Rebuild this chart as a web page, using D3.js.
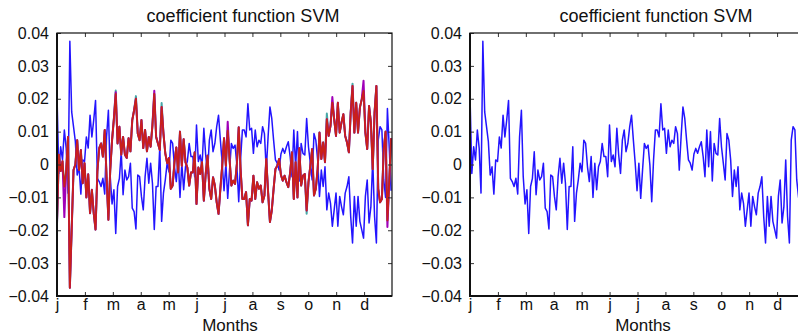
<!DOCTYPE html>
<html>
<head>
<meta charset="utf-8">
<script src="https://cdn.jsdelivr.net/npm/d3@7"></script>
<style>
  body { margin: 0; background: #fff; }
  svg { display: block; font-family: "Liberation Sans", Arial, sans-serif; }
</style>
</head>
<body>
<div id="chart"></div>
<script>
// values are in thousandths, one sample every 2 days
const valueUnit = 0.001;
const sampleDays = d3.range(0, 365, 2);
const monthLabels = ["j", "f", "m", "a", "m", "j", "j", "a", "s", "o", "n", "d"];
const yTicks = [-0.04, -0.03, -0.02, -0.01, 0, 0.01, 0.02, 0.03, 0.04];

const svmBlue = [21,-2.7,5.4,1.4,10.5,5,-8.7,37.5,16,11.5,
  7,-3.2,-0.7,-9,1.4,0.9,8.4,5,15,8.4,
  13.5,19.5,-4.2,-5.2,-6.7,-4.2,-9,8.4,16.5,-3.7,
  -12,-7.7,-21,-6.7,-4.2,3.9,-9.2,-1.7,-4.7,-3.7,
  0.4,-13.3,-14.3,-19.6,-3.2,-3.7,-9.7,-13.8,-3.7,1.9,
  -5.7,0.4,-5.7,-19.8,-6.7,-6.7,5.4,-17.3,-8.7,-4.7,
  0.4,-2.2,7.4,6.4,-0.7,-5.2,2.4,-10,0.4,-7.7,
  -0.7,0.9,6.4,2.4,2.4,-3.7,12,0.9,2.9,-0.7,
  11,2.9,-2.7,7.4,10.5,3.9,6.4,11.5,15,7.4,
  0.4,-8,0.4,-10.3,-1.7,6.4,4.9,5.9,-0.2,-11.3,
  1.4,10.5,10.5,8.4,18.5,10.5,11,3.4,10.5,5.4,
  7.4,6.4,11.5,9.4,-1.7,8.4,17.5,14,7.4,1.4,
  0.4,-1.7,3.2,4.9,3.4,5.4,6.9,2.5,-3.7,10.5,
  -0.7,10,-5,6.4,3.4,2.9,14,5.4,0.4,-4.7,
  9.4,7.4,1.4,-9.7,-1.7,-6.7,-0.7,-13.8,-8.7,-11.8,
  -18.8,-13.8,-8.7,-18.8,-9.7,-12.8,-15.3,-8.7,-6.7,-3.7,
  -15.8,-23.9,-9.7,-18.8,-9.7,-17.3,-19.8,-22.4,-9.7,-4.7,
  -17.8,-12.8,1.4,-15.8,-23.9,7.4,11.5,10.5,-4.7,-10,
  17,5,-8];

const svmRed = [-18,3,-2,1,-6.7,-2,8.4,-37.5,-19.8,-1.7,
  0,7.4,-1.7,4.4,-5.7,0.4,-10,-3,-14.8,-7.7,
  -14.8,-19.8,-2,5,6.4,2.4,10.5,-3.7,-16.8,-1.7,
  7.4,14,21.5,6.4,11.5,3,8.4,3,2,8,
  4,13.5,16.5,20,9.4,7.4,13.5,5,10.5,4,
  8.4,5.4,12,21.5,8.4,6.4,4.4,17.5,9.4,3.4,
  0.4,2,-7.4,-6.4,0.7,5.2,-2.4,10,-0.4,7.7,
  0.7,-0.9,-6.4,-2.4,-2.4,3.7,-12,-0.9,-2.9,0.7,
  -11,-2.9,2.7,-7.4,-10.5,-3.9,-6.4,-11.5,-15,-7.4,
  -0.4,8,-0.4,10.3,1.7,-6.4,-4.9,-5.9,0.2,11.3,
  -1.4,-10.5,-10.5,-8.4,-18.5,-10.5,-11,-3.4,-10.5,-5.4,
  -7.4,-6.4,-11.5,-9.4,1.7,-8.4,-17.5,-14,-7.4,-1.4,
  -0.4,1.7,-3.2,-4.9,-3.4,-5.4,-6.9,-2.5,3.7,-10.5,
  0.7,-10,5,-6.4,-3.4,-2.9,-14,-5.4,-0.4,4.7,
  -9.4,-7.4,-1.4,9.7,1.7,6.7,0.7,13.8,8.7,11.8,
  18.8,13.8,8.7,18.8,9.7,12.8,15.3,8.7,6.7,3.7,
  15.8,23.9,9.7,18.8,9.7,17.3,19.8,22.4,9.7,4.7,
  17.8,12.8,-1.4,15.8,23.9,-7.4,-11.5,-10.5,4.7,10,
  -17,-5,8];

const svmMagenta = [-18,3,-2,1,-16,-2,8.4,-37.5,-19.8,-1.7,
  0,7.4,-1.7,4.4,-5.7,0.4,-10,-3,-14.8,-7.7,
  -14.8,-19.8,-2,5,6.4,2.4,10.5,-3.7,-16.8,-1.7,
  7.4,14,22,6.4,11.5,3,8.4,3,2,8,
  4,13.5,16.5,20,9.4,7.4,13.5,5,10.5,4,
  8.4,5.4,12,22.4,8.4,6.4,4.4,17.5,9.4,3.4,
  0.4,2,-7.4,-6.4,0.7,5.2,-2.4,10,-0.4,7.7,
  0.7,-0.9,-6.4,-2.4,-2.4,3.7,-12,-0.9,-2.9,0.7,
  -11,-2.9,2.7,-7.4,-10.5,-3.9,-6.4,-11.5,-15,-7.4,
  -0.4,8,-0.4,13,1.7,-6.4,-4.9,-5.9,0.2,11.3,
  -1.4,-10.5,-10.5,-8.4,-18.5,-10.5,-11,-3.4,-10.5,-5.4,
  -7.4,-6.4,-11.5,-9.4,1.7,-8.4,-17.5,-14,-7.4,-1.4,
  -0.4,1.7,-3.2,-4.9,-3.4,-5.4,-6.9,-2.5,3.7,-10.5,
  0.7,-10,5,-6.4,-3.4,-2.9,-14,-5.4,-0.4,4.7,
  -9.4,-7.4,-1.4,9.7,1.7,6.7,0.7,13.8,8.7,11.8,
  20.5,13.8,8.7,18.8,9.7,12.8,15.3,8.7,6.7,3.7,
  15.8,23.9,9.7,18.8,9.7,17.3,19.8,25.5,9.7,4.7,
  17.8,12.8,-1.4,15.8,23.9,-7.4,-11.5,-10.5,4.7,10,
  -19,-5,8];

const svmCyan = [-18,3,-2,1,-6.7,-2,8.4,-37.5,-19.8,-1.7,
  0,7.4,-1.7,4.4,-5.7,0.4,-10,-3,-14.8,-7.7,
  -14.8,-19.8,-2,5,6.4,2.4,10.5,-3.7,-16.8,-1.7,
  7.4,14,22.5,6.4,11.5,3,8.4,3,2,8,
  4,13.5,16.5,20.8,9.4,7.4,13.5,5,10.5,4,
  8.4,5.4,12,21.5,8.4,6.4,4.4,18.7,9.4,3.4,
  0.4,2,-7.4,-6.4,0.7,5.2,-2.4,10,-0.4,7.7,
  0.7,-0.9,-6.4,-2.4,-2.4,3.7,-12,-0.9,-2.9,0.7,
  -11,-2.9,2.7,-7.4,-10.5,-3.9,-6.4,-11.5,-15,-7.4,
  -0.4,8,-0.4,10.3,1.7,-6.4,-4.9,-5.9,0.2,11.3,
  -1.4,-10.5,-10.5,-8.4,-18.5,-10.5,-11,-3.4,-10.5,-5.4,
  -7.4,-6.4,-11.5,-9.4,1.7,-8.4,-17.5,-14,-7.4,-1.4,
  -0.4,1.7,-3.2,-4.9,-3.4,-5.4,-6.9,-2.5,3.7,-10.5,
  0.7,-10,5,-6.4,-3.4,-2.9,-15,-5.4,-0.4,4.7,
  -9.4,-7.4,-1.4,9.7,1.7,6.7,0.7,15.5,8.7,11.8,
  18.8,13.8,8.7,18.8,9.7,12.8,15.3,8.7,6.7,3.7,
  15.8,24.6,9.7,18.8,9.7,17.3,19.8,22.4,9.7,4.7,
  17.8,12.8,-1.4,15.8,23.9,-7.4,-11.5,-10.5,4.7,10,
  -17,-5,8];

const titleText = "coefficient function SVM";
const xLabelText = "Months";

const plotTop = 33, plotW = 335, plotH = 263;

const svg = d3.select("#chart")
  .append("svg")
  .attr("width", 798)
  .attr("height", 335);

function drawPanel(left, series) {
  const x = d3.scaleLinear().domain([0, 365]).range([left, left + plotW]);
  const y = d3.scaleLinear().domain([-0.04, 0.04]).range([plotTop + plotH, plotTop]);
  const monthTicks = monthLabels.map((m, i) => i * 365 / 12);

  const g = svg.append("g");

  const line = d3.line()
    .x((d, i) => x(sampleDays[i]))
    .y(d => y(d * valueUnit));

  series.forEach(s => {
    g.append("path")
      .datum(s.values)
      .attr("fill", "none")
      .attr("stroke", s.color)
      .attr("stroke-width", s.width)
      .attr("stroke-linejoin", "round")
      .attr("d", line);
  });

  // ticks point inward on all four sides
  const bottom = g.append("g")
    .attr("transform", `translate(0,${plotTop + plotH})`)
    .call(d3.axisBottom(x).tickValues(monthTicks).tickFormat((d, i) => monthLabels[i])
      .tickSizeInner(-4).tickSizeOuter(0).tickPadding(3));
  g.append("g")
    .attr("transform", `translate(0,${plotTop})`)
    .call(d3.axisTop(x).tickValues(monthTicks).tickFormat("")
      .tickSizeInner(-4).tickSizeOuter(0));
  const leftAx = g.append("g")
    .attr("transform", `translate(${left},0)`)
    .call(d3.axisLeft(y).tickValues(yTicks)
      .tickFormat(d => d === 0 ? "0" : d3.format(".2f")(d))
      .tickSizeInner(-4).tickSizeOuter(0).tickPadding(8));
  g.append("g")
    .attr("transform", `translate(${left + plotW},0)`)
    .call(d3.axisRight(y).tickValues(yTicks).tickFormat("")
      .tickSizeInner(-4).tickSizeOuter(0));

  g.selectAll(".domain").remove();
  g.selectAll(".tick line").attr("stroke", "#333");
  bottom.selectAll("text").style("font-size", "16px").attr("fill", "#111");
  leftAx.selectAll("text").style("font-size", "16px").attr("fill", "#111");

  // frame
  g.append("rect")
    .attr("x", left).attr("y", plotTop)
    .attr("width", plotW).attr("height", plotH)
    .attr("fill", "none").attr("stroke", "#111").attr("stroke-width", 1.2);
  g.append("path")
    .attr("d", `M${left},${plotTop}V${plotTop + plotH}H${left + plotW}`)
    .attr("fill", "none").attr("stroke", "#111").attr("stroke-width", 2);

  g.append("text")
    .attr("x", left + 186).attr("y", 22)
    .attr("text-anchor", "middle")
    .style("font-size", "18px").attr("fill", "#111")
    .text(titleText);

  g.append("text")
    .attr("x", left + 173).attr("y", 331)
    .attr("text-anchor", "middle")
    .style("font-size", "17px").attr("fill", "#111")
    .text(xLabelText);
}

drawPanel(57, [
  {values: svmBlue, color: "#2314ff", width: 1.5},
  {values: svmCyan, color: "#48a8a8", width: 2},
  {values: svmMagenta, color: "#a000b8", width: 2},
  {values: svmRed, color: "#c8201a", width: 1.8}
]);

drawPanel(470, [
  {values: svmBlue, color: "#2314ff", width: 1.5}
]);
</script>
</body>
</html>
